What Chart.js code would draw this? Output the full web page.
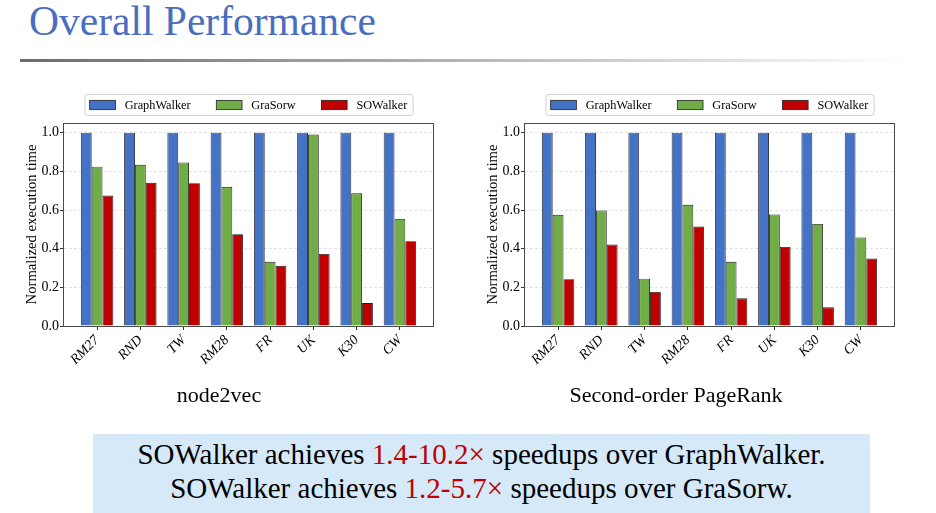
<!DOCTYPE html>
<html>
<head>
<meta charset="utf-8">
<script src="https://cdn.jsdelivr.net/npm/chart.js@4.4.1/dist/chart.umd.min.js"></script>
<style>
  html, body { margin:0; padding:0; background:#fff; }
  body { width:936px; height:513px; position:relative; overflow:hidden; font-family:'Liberation Serif', serif; }
  #title { position:absolute; left:29px; top:1px; font-size:41.5px; line-height:41.5px; color:#4a6ebf; white-space:nowrap; }
  #rule { position:absolute; left:20px; top:59px; width:890px; height:3px; background:linear-gradient(to right,#6c6c6c,#ffffff); }
  .wrap { position:absolute; top:80px; width:468px; height:340px; }
  .sub { position:absolute; font-size:22px; line-height:22px; color:#000; white-space:nowrap; transform:translateX(-50%); }
  #note { position:absolute; left:93px; top:434px; width:777px; height:79px; background:#d5e9f9; text-align:center; font-size:29px; line-height:34px; color:#000; padding-top:3px; box-sizing:border-box; }
  #note .hl { color:#c00000; }
</style>
</head>
<body>
<div id="title">Overall Performance</div>
<div id="rule"></div>
<div class="wrap" style="left:0px"><canvas id="c1" width="468" height="340"></canvas></div>
<div class="wrap" style="left:461px"><canvas id="c2" width="468" height="340"></canvas></div>
<div class="sub" style="left:219px; top:384px">node2vec</div>
<div class="sub" style="left:676px; top:384px">Second-order PageRank</div>
<div id="note">SOWalker achieves <span class="hl">1.4-10.2×</span> speedups over GraphWalker.<br>SOWalker achieves <span class="hl">1.2-5.7×</span> speedups over GraSorw.</div>
<script>
const categories = ['RM27','RND','TW','RM28','FR','UK','K30','CW'];
const seriesNames = ['GraphWalker','GraSorw','SOWalker'];
const seriesColors = ['#4472c4','#70ad47','#c00000'];

const n2vGraphWalker = [1,1,1,1,1,1,1,1];
const n2vGraSorw     = [0.824,0.834,0.846,0.720,0.332,0.990,0.686,0.554];
const n2vSOWalker    = [0.675,0.741,0.739,0.475,0.311,0.373,0.119,0.439];

const prGraphWalker  = [1,1,1,1,1,1,1,1];
const prGraSorw      = [0.575,0.598,0.245,0.627,0.332,0.577,0.528,0.458];
const prSOWalker     = [0.242,0.421,0.176,0.515,0.143,0.409,0.097,0.349];

const yTickValues = [0,0.2,0.4,0.6,0.8,1.0];
const yTickLabels = ['0.0','0.2','0.4','0.6','0.8','1.0'];
const yMax = 1.05;
const yTitle = 'Normalized execution time';

const SERIF = "'Liberation Serif', serif";

const framePlugin = {
  id: 'frame',
  afterDatasetsDraw(chart) {
    const {ctx, chartArea: a} = chart;
    ctx.save();
    ctx.strokeStyle = '#4a4a4a';
    ctx.lineWidth = 1;
    ctx.strokeRect(Math.round(a.left) - 0.5, Math.round(a.top) + 0.5, Math.round(a.width) + 1, Math.round(a.height));
    ctx.restore();
  }
};

const legendPlugin = {
  id: 'boxLegend',
  afterDraw(chart) {
    const {ctx, chartArea: a} = chart;
    const fs = 12.3;
    ctx.save();
    ctx.font = fs + 'px ' + SERIF;
    const sw = 25.7, sh = 9.3, gap = 9.3, itemGap = 25.7, pad = 5.3;
    const items = chart.data.datasets.map(d => ({label: d.label, color: d.backgroundColor, w: ctx.measureText(d.label).width}));
    let total = pad * 2;
    items.forEach((it, i) => { total += sw + gap + it.w + (i < items.length - 1 ? itemGap : 0); });
    const bx = (a.left + a.right) / 2 - total / 2;
    const by = 14, bh = 21;
    ctx.beginPath();
    ctx.roundRect(bx + 0.5, by + 0.5, total, bh, 3);
    ctx.fillStyle = 'rgba(255,255,255,0.8)';
    ctx.fill();
    ctx.strokeStyle = '#d0d0d0';
    ctx.lineWidth = 1;
    ctx.stroke();
    let x = bx + pad;
    const cy = by + bh / 2 + 0.5;
    items.forEach(it => {
      ctx.fillStyle = it.color;
      ctx.fillRect(x, cy - sh / 2, sw, sh);
      ctx.strokeStyle = '#222';
      ctx.lineWidth = 0.8;
      ctx.strokeRect(x, cy - sh / 2, sw, sh);
      ctx.fillStyle = '#000';
      ctx.textBaseline = 'middle';
      ctx.textAlign = 'left';
      ctx.fillText(it.label, x + sw + gap, cy + 0.5);
      x += sw + gap + it.w + itemGap;
    });
    ctx.restore();
  }
};

function makeChart(id, series) {
  const ctx = document.getElementById(id);
  return new Chart(ctx, {
    type: 'bar',
    data: {
      labels: categories,
      datasets: series.map((vals, i) => ({
        label: seriesNames[i],
        data: vals,
        backgroundColor: seriesColors[i],
        borderColor: '#1e1e1e',
        borderWidth: 0.9,
        categoryPercentage: 0.75,
        barPercentage: 1.0
      }))
    },
    options: {
      responsive: false,
      animation: false,
      devicePixelRatio: 1,
      layout: { padding: { top: 43, left: 0, right: 35, bottom: 34 } },
      plugins: { legend: { display: false }, tooltip: { enabled: false } },
      scales: {
        x: {
          type: 'category',
          offset: true,
          afterBuildTicks(scale) { scale._startValue = -0.765; scale._valueRange = 8.53; },
          afterFit(scale) { scale.height = 60; },
          grid: { display: true, drawOnChartArea: false, drawTicks: true, offset: false, tickLength: 4, tickColor: '#333', tickWidth: 1 },
          border: { display: false },
          ticks: { color: '#000', font: { family: SERIF, size: 14, style: 'italic' }, minRotation: 45, maxRotation: 45, padding: 2, autoSkip: false }
        },
        y: {
          min: 0,
          max: yMax,
          afterBuildTicks(scale) { scale.ticks = yTickValues.map(v => ({value: v})); },
          afterFit(scale) { scale.width = 64; },
          grid: { color: '#dcdcdc', lineWidth: 0.8, tickLength: 4, tickColor: '#333', tickWidth: 1, tickBorderDash: [] },
          border: { display: false, dash: [3, 2] },
          ticks: {
            color: '#000',
            font: { family: SERIF, size: 14 },
            padding: 1,
            callback(v) { const i = yTickValues.indexOf(v); return i >= 0 ? yTickLabels[i] : ''; }
          },
          title: { display: true, text: yTitle, color: '#000', font: { family: SERIF, size: 14.7 }, padding: { top: 22.9, bottom: 0 } }
        }
      }
    },
    plugins: [framePlugin, legendPlugin]
  });
}

makeChart('c1', [n2vGraphWalker, n2vGraSorw, n2vSOWalker]);
makeChart('c2', [prGraphWalker, prGraSorw, prSOWalker]);
</script>
</body>
</html>
